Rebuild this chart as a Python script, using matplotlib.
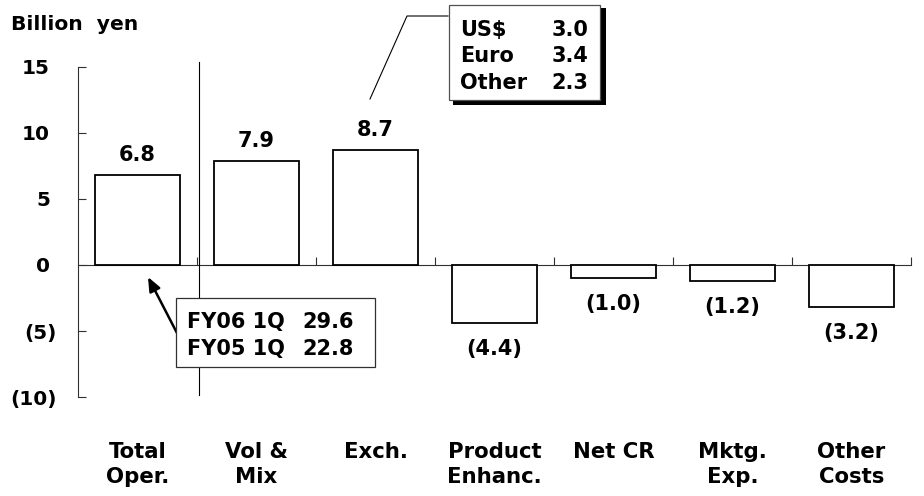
import matplotlib
matplotlib.use("Agg")
import matplotlib.pyplot as plt
from matplotlib.patches import Rectangle
from matplotlib.lines import Line2D

# -----------------------------
# Data
# -----------------------------
categories = ["Total\nOper.", "Vol &\nMix", "Exch.", "Product\nEnhanc.",
              "Net CR", "Mktg.\nExp.", "Other\nCosts"]
values = [6.8, 7.9, 8.7, -4.4, -1.0, -1.2, -3.2]
yticks = [-10, -5, 0, 5, 10, 15]

fx_labels = ["US$", "Euro", "Other"]
fx_values = [3.0, 3.4, 2.3]

op_labels = ["FY06 1Q", "FY05 1Q"]
op_values = [29.6, 22.8]

plt.rcParams["font.family"] = "DejaVu Sans"
plt.rcParams["font.weight"] = "bold"

W, H = 924, 496
PT = 0.72  # points per pixel at dpi 100


def fp(x, y):
    # pixel position (from top-left) -> figure fraction
    return x / W, 1 - y / H


fig = plt.figure(figsize=(W / 100, H / 100), dpi=100)
ax = fig.add_axes([78 / W, (H - 397) / H, 833 / W, 330 / H])

x = list(range(len(values)))
ax.bar(x, values, width=0.714, color="white", edgecolor="black",
       linewidth=1.3, zorder=3)
ax.set_xlim(-0.5, len(values) - 0.5)
ax.set_ylim(-10, 15)

ax.spines["top"].set_visible(False)
ax.spines["right"].set_visible(False)
ax.spines["bottom"].set_position(("data", 0))
for s in ["left", "bottom"]:
    ax.spines[s].set_color("#303030")
    ax.spines[s].set_linewidth(0.8)

ax.set_xticks([i + 0.5 for i in x])
ax.set_xticklabels([])
ax.set_yticks(yticks)
ax.set_yticklabels([])
ax.tick_params(axis="both", direction="in", length=8 * PT, width=0.8,
               color="#303030")

# y tick labels, negatives in parentheses
for v in yticks:
    lab = f"({abs(v)})" if v < 0 else str(v)
    dx = -21 if v < 0 else -28
    ax.annotate(lab, xy=(0, v), xycoords=("axes fraction", "data"),
                xytext=(dx * PT, 0), textcoords="offset points",
                ha="right", va="center_baseline", fontsize=14.4)

# value labels
for i, v in zip(x, values):
    if v >= 0:
        ax.annotate(f"{v:.1f}", xy=(i, v), xytext=(0, 10 * PT),
                    textcoords="offset points", ha="center", va="bottom",
                    fontsize=15)
    else:
        ax.annotate(f"({abs(v):.1f})", xy=(i, v), xytext=(0, -16 * PT),
                    textcoords="offset points", ha="center", va="top",
                    fontsize=15)

# category labels
for i, c in zip(x, categories):
    ax.text(i, -0.136, c, transform=ax.get_xaxis_transform(), ha="center",
            va="top", fontsize=15.3, linespacing=1.3)

# title
fig.text(*fp(11, 30), "Billion  yen", fontsize=14.6, va="baseline")

# separator line after first bar
fig.add_artist(Line2D([199 / W, 199 / W], [fp(0, 62)[1], fp(0, 395)[1]],
                      color="black", lw=0.8, zorder=2))

# operating income box
x0, y0 = fp(176, 367)
x1, y1 = fp(375, 298)
fig.add_artist(Rectangle((x0, y0), x1 - x0, y1 - y0, transform=fig.transFigure,
                         facecolor="white", edgecolor="#303030", lw=0.9,
                         zorder=5))
for k, (lab, val) in enumerate(zip(op_labels, op_values)):
    yy = 320 + 27 * k
    fig.text(*fp(187, yy), lab, fontsize=15, va="center_baseline", zorder=6)
    fig.text(*fp(302, yy), f"{val:.1f}", fontsize=15, va="center_baseline",
             zorder=6)

ax.annotate("", xy=fp(148, 277), xycoords="figure fraction",
            xytext=fp(178, 335), textcoords="figure fraction",
            arrowprops=dict(arrowstyle="-|>,head_length=0.6,head_width=0.25",
                            color="black", lw=1.8, mutation_scale=14,
                            shrinkA=0, shrinkB=0), zorder=6)

# exchange breakdown box with shadow
sx0, sy0 = fp(453, 105)
sx1, sy1 = fp(606, 8)
fig.add_artist(Rectangle((sx0, sy0), sx1 - sx0, sy1 - sy0,
                         transform=fig.transFigure, facecolor="black",
                         edgecolor="none", zorder=4))
bx0, by0 = fp(449, 100)
bx1, by1 = fp(600, 5)
fig.add_artist(Rectangle((bx0, by0), bx1 - bx0, by1 - by0,
                         transform=fig.transFigure, facecolor="white",
                         edgecolor="#505050", lw=0.9, zorder=5))
for k, (lab, val) in enumerate(zip(fx_labels, fx_values)):
    yy = 28 + 26.5 * k
    fig.text(*fp(460, yy), lab, fontsize=15, va="center_baseline", zorder=6)
    fig.text(*fp(588, yy), f"{val:.1f}", fontsize=15, ha="right",
             va="center_baseline", zorder=6)

lx, ly = zip(fp(370, 99), fp(407, 16), fp(448, 16))
fig.add_artist(Line2D(lx, ly, color="black", lw=0.8, zorder=4))

fig.savefig("out.png", dpi=100)
print("Chart saved as 'out.png'")
